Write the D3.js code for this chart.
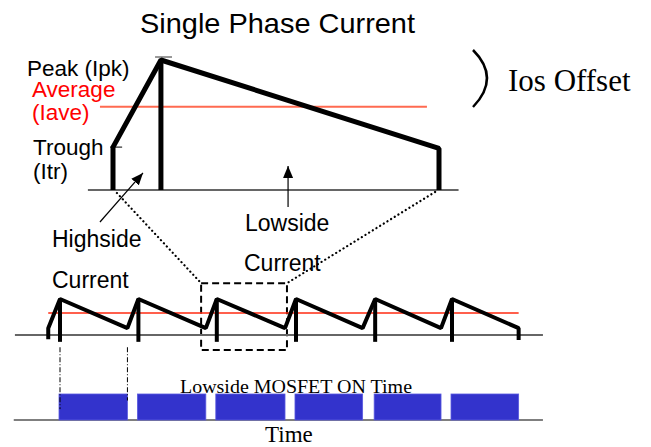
<!DOCTYPE html>
<html>
<head>
<meta charset="utf-8">
<script src="https://cdn.jsdelivr.net/npm/d3@7"></script>
<style>
  html, body { margin: 0; padding: 0; background: #fff; }
  svg { display: block; }
</style>
</head>
<body>
<script>
// ---------- DATA ----------
// Top panel: one switching period (time normalised 0..1, current normalised to peak)
const topTimes   = [0, 0, 0.147, 1, 1];
const topCurrent = [0, 0.33, 1, 0.32, 0];
const topPeakTime = 0.147;
const topAverage  = 0.64;

// Bottom panel: six switching periods
const lowsideOnTimes  = [0, 1, 2, 3.01, 4.02, 5];
const lowsideOffTimes = [0.86, 1.86, 2.87, 3.86, 4.86, 5.85];
const firstRiseTime = -0.15;
const peakCurrent = 1, troughCurrent = 0.19, averageCurrent = 0.61, undershootCurrent = -0.14;

// Text
const titleText = "Single Phase Current";
const leftLabels = ["Peak (Ipk)", "Average", "(Iave)", "Trough", "(Itr)"];
const offsetLabel = "Ios Offset";
const gateLabel = "Lowside MOSFET ON Time";
const timeLabel = "Time";

// ---------- SCALES ----------
const W = 651, H = 447;
const svg = d3.select("body").append("svg").attr("width", W).attr("height", H);

const xT = d3.scaleLinear().domain([0, 1]).range([113, 439]);
const yT = d3.scaleLinear().domain([0, 1]).range([190, 60]);
const xB = d3.scaleLinear().domain([0, 5]).range([60, 452]);
const yB = d3.scaleLinear().domain([0, 1]).range([335, 299]);
const yG = d3.scaleLinear().domain([0, 1]).range([420, 394]);

const sans = "'Liberation Sans', Arial, sans-serif";
const serif = "'Liberation Serif', 'Times New Roman', serif";

// markers
const defs = svg.append("defs");
defs.append("marker").attr("id", "arr").attr("viewBox", "0 0 12 10")
  .attr("refX", 12).attr("refY", 5).attr("markerWidth", 12).attr("markerHeight", 10)
  .attr("markerUnits", "userSpaceOnUse").attr("orient", "auto")
  .append("path").attr("d", "M0,0 L12,5 L0,10 Z").attr("fill", "#000");

// ---------- TITLE ----------
svg.append("text").attr("x", 140).attr("y", 33)
  .attr("font-family", sans).attr("font-size", 28)
  .attr("textLength", 275).attr("lengthAdjust", "spacingAndGlyphs")
  .text(titleText);

// ---------- TOP PANEL ----------
const line = d3.line();
// baseline
svg.append("path").attr("d", line([[xT(-0.077), yT(0)], [xT(1.06), yT(0)]]))
  .attr("stroke", "#666").attr("stroke-width", 2).attr("fill", "none");
// average
svg.append("path").attr("d", line([[xT(-0.04), yT(topAverage)], [xT(0.963), yT(topAverage)]]))
  .attr("stroke", "#ff6a50").attr("stroke-width", 2).attr("fill", "none");
// tick marks
svg.append("path").attr("d", line([[xT(0.129), yT(1.023)], [xT(0.181), yT(1.023)]]))
  .attr("stroke", "#777").attr("stroke-width", 1.5);
svg.append("path").attr("d", line([[xT(-0.009), yT(topCurrent[1])], [xT(0.028), yT(topCurrent[1])]]))
  .attr("stroke", "#000").attr("stroke-width", 1);
// waveform
svg.append("path").attr("d", line(topTimes.map((t, i) => [xT(t), yT(topCurrent[i])])))
  .attr("stroke", "#000").attr("stroke-width", 5).attr("fill", "none")
  .attr("stroke-linejoin", "bevel");
svg.append("path").attr("d", line([[xT(topPeakTime), yT(1)], [xT(topPeakTime), yT(0)]]))
  .attr("stroke", "#000").attr("stroke-width", 5);

// left labels
const lblPos = [[27, 76, "#000"], [32, 97, "#f00"], [32, 120, "#f00"], [33, 155, "#000"], [33, 179, "#000"]];
leftLabels.forEach((s, i) => {
  svg.append("text").attr("x", lblPos[i][0]).attr("y", lblPos[i][1])
    .attr("font-family", sans).attr("font-size", 22.5).attr("fill", lblPos[i][2]).text(s);
});

// Ios offset bracket + label
svg.append("path").attr("d", "M473,50 Q501,78 473,107")
  .attr("stroke", "#000").attr("stroke-width", 2.5).attr("fill", "none");
svg.append("text").attr("x", 508).attr("y", 91)
  .attr("font-family", serif).attr("font-size", 31).text(offsetLabel);

// arrows
svg.append("path").attr("d", line([[xT(-0.04), yT(-0.246)], [xT(0.092), yT(0.131)]]))
  .attr("stroke", "#000").attr("stroke-width", 1.2).attr("marker-end", "url(#arr)");
svg.append("path").attr("d", line([[xT(0.537), yT(-0.13)], [xT(0.537), yT(0.185)]]))
  .attr("stroke", "#000").attr("stroke-width", 1.2).attr("marker-end", "url(#arr)");

// annotations
[["Highside", 52, 247], ["Current", 52, 288], ["Lowside", 245, 231], ["Current", 244, 271]]
  .forEach(d => svg.append("text").attr("x", d[1]).attr("y", d[2])
    .attr("font-family", sans).attr("font-size", 23).text(d[0]));

// ---------- ZOOM BOX + DOTTED LINES ----------
const boxT0 = 1.8, boxT1 = 2.895, boxI0 = -0.42, boxI1 = 1.44;
svg.append("rect").attr("x", xB(boxT0)).attr("y", yB(boxI1))
  .attr("width", xB(boxT1) - xB(boxT0)).attr("height", yB(boxI0) - yB(boxI1))
  .attr("fill", "none").attr("stroke", "#000").attr("stroke-width", 2)
  .attr("stroke-dasharray", "7,4");
svg.append("path").attr("d", line([[xT(0.012), yT(-0.023)], [xB(boxT0), yB(boxI1)]]))
  .attr("stroke", "#000").attr("stroke-width", 2.2).attr("stroke-dasharray", "0.1,4.2")
  .attr("stroke-linecap", "round").attr("fill", "none");
svg.append("path").attr("d", line([[xT(0.988), yT(-0.015)], [xB(boxT1), yB(boxI1)]]))
  .attr("stroke", "#000").attr("stroke-width", 2.2).attr("stroke-dasharray", "0.1,4.2")
  .attr("stroke-linecap", "round").attr("fill", "none");

// ---------- BOTTOM PANEL ----------
svg.append("path").attr("d", line([[xB(-0.575), yB(0)], [xB(6.16), yB(0)]]))
  .attr("stroke", "#666").attr("stroke-width", 2);
svg.append("path").attr("d", line([[xB(firstRiseTime), yB(averageCurrent)], [xB(lowsideOffTimes[5]), yB(averageCurrent)]]))
  .attr("stroke", "#ff2a10").attr("stroke-width", 1.5);

const saw = [[firstRiseTime, undershootCurrent + 0.02], [firstRiseTime, troughCurrent]];
lowsideOnTimes.forEach((t, k) => { saw.push([t, peakCurrent]); saw.push([lowsideOffTimes[k], troughCurrent]); });
saw.push([lowsideOffTimes[5], undershootCurrent]);
svg.append("path").attr("d", line(saw.map(d => [xB(d[0]), yB(d[1])])))
  .attr("stroke", "#000").attr("stroke-width", 4).attr("fill", "none").attr("stroke-linejoin", "bevel");
lowsideOnTimes.forEach(t => {
  svg.append("path").attr("d", line([[xB(t), yB(peakCurrent)], [xB(t), yB(undershootCurrent - 0.05)]]))
    .attr("stroke", "#000").attr("stroke-width", 4);
});

// gate signal
svg.append("path").attr("d", line([[xB(-0.59), yG(0)], [xB(6.16), yG(0)]]))
  .attr("stroke", "#555").attr("stroke-width", 1.5);
svg.selectAll("rect.bar").data(lowsideOnTimes).enter().append("rect").attr("class", "bar")
  .attr("x", (t) => xB(t) - 1).attr("y", yG(1))
  .attr("width", (t, i) => xB(lowsideOffTimes[i]) - xB(t) + 1).attr("height", yG(0) - yG(1))
  .attr("fill", "#3333cc").attr("stroke", "#5a5ae0").attr("stroke-width", 0.8);

// dash-dot guides
[lowsideOnTimes[0], lowsideOffTimes[0]].forEach((t, i) => {
  svg.append("path").attr("d", line([[xB(t), yB(undershootCurrent - 0.2)], [xB(t), i === 0 ? yG(0.42) : yG(0.75)]]))
    .attr("stroke", "#000").attr("stroke-width", 1).attr("stroke-dasharray", "5,2,1,2");
});

svg.append("text").attr("x", 180).attr("y", 393)
  .attr("font-family", serif).attr("font-size", 19)
  .attr("textLength", 232).attr("lengthAdjust", "spacingAndGlyphs").text(gateLabel);
svg.append("text").attr("x", 265).attr("y", 442)
  .attr("font-family", serif).attr("font-size", 23).text(timeLabel);
</script>
</body>
</html>
